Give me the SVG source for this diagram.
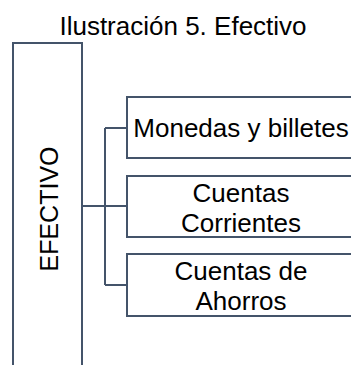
<svg xmlns="http://www.w3.org/2000/svg" width="351" height="365" viewBox="0 0 351 365">
<style>
.box{fill:#ffffff;stroke:#44546A;stroke-width:2}
.conn{fill:none;stroke:#44546A;stroke-width:2}
text{font-family:"Liberation Sans",Arial,sans-serif;fill:#000000}
.lbl{font-size:26px;text-anchor:middle}
</style>
<rect x="0" y="0" width="351" height="365" fill="#ffffff"/>
<text id="title" class="lbl" x="183" y="35">Ilustración 5. Efectivo</text>
<g id="connectors">
<path class="conn" d="M82,206 H105 M105,128 V285 M105,128 H127 M105,206 H127 M105,285 H127"/>
</g>
<g id="efectivo">
<rect class="box" x="13" y="43" width="69" height="340"/>
<text class="lbl" font-size="25" transform="translate(58,209) rotate(-90)" style="font-size:25px">EFECTIVO</text>
</g>
<g id="monedas">
<rect class="box" x="127" y="97" width="228" height="61"/>
<text class="lbl" x="241" y="137">Monedas y billetes</text>
</g>
<g id="corrientes">
<rect class="box" x="127" y="176" width="228" height="61"/>
<text class="lbl" x="241" y="202">Cuentas</text>
<text class="lbl" x="241" y="232">Corrientes</text>
</g>
<g id="ahorros">
<rect class="box" x="127" y="254" width="228" height="62"/>
<text class="lbl" x="241" y="280">Cuentas de</text>
<text class="lbl" x="241" y="310">Ahorros</text>
</g>
</svg>
